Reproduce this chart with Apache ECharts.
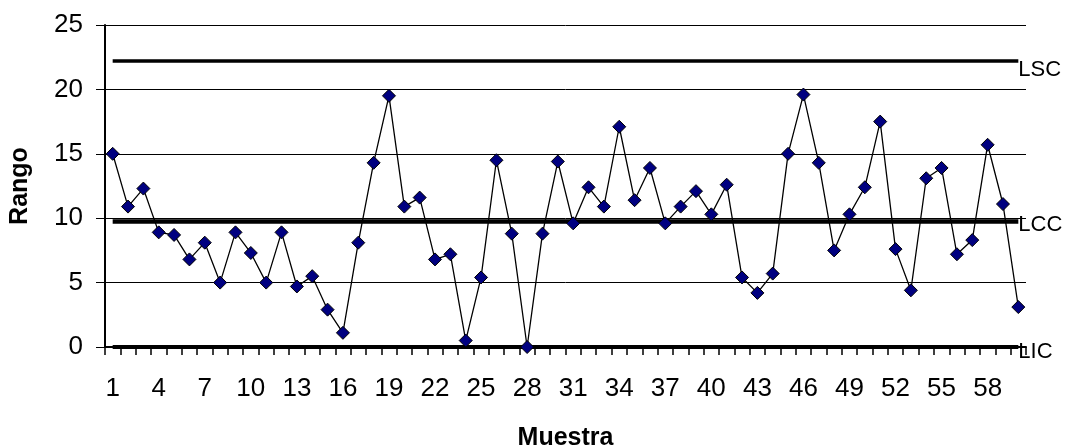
<!DOCTYPE html>
<html>
<head>
<meta charset="utf-8">
<script src="https://cdn.jsdelivr.net/npm/echarts@6/dist/echarts.min.js"></script>
<style>html,body{margin:0;padding:0;background:#fff;}#c{width:1068px;height:448px;}</style>
</head>
<body>
<div id="c"></div>
<script>
var categories = [];
for (var i = 1; i <= 60; i++) categories.push(String(i));

var rango = [15.0, 10.9, 12.3, 8.9, 8.7, 6.8, 8.1, 5.0, 8.9, 7.3,
             5.0, 8.9, 4.7, 5.5, 2.9, 1.1, 8.1, 14.3, 19.5, 10.9,
             11.6, 6.8, 7.2, 0.5, 5.4, 14.5, 8.8, 0.0, 8.8, 14.4,
             9.6, 12.4, 10.9, 17.1, 11.4, 13.9, 9.6, 10.9, 12.1, 10.3,
             12.6, 5.4, 4.2, 5.7, 15.0, 19.6, 14.3, 7.5, 10.3, 12.4,
             17.5, 7.6, 4.4, 13.1, 13.9, 7.2, 8.3, 15.7, 11.1, 3.1];

var lscValue = 22.2;
var lccValue = 9.75;
var licValue = 0;

var lsc = categories.map(function(){ return lscValue; });
var lcc = categories.map(function(){ return lccValue; });
var lic = categories.map(function(){ return licValue; });

var yTicks = [0, 5, 10, 15, 20, 25];

var FONT = '"Liberation Sans", Arial, sans-serif';

function ctrl(name, data, width, dy) {
  return {
    name: name, type: 'line', data: data, symbol: 'none', silent: true,
    lineStyle: { color: '#000', width: width },
    endLabel: { show: true, formatter: '{a}', color: '#000', fontFamily: FONT, fontSize: 22, distance: 0, offset: [0, dy] },
    z: 2
  };
}

var chart = echarts.init(document.getElementById('c'), null, { renderer: 'canvas' });
chart.setOption({
  animation: false,
  backgroundColor: '#fff',
  grid: { left: 105, right: 42, top: 25, bottom: 101, containLabel: false, outerBoundsMode: 'none' },
  xAxis: {
    type: 'category', data: categories, boundaryGap: true,
    name: 'Muestra', nameLocation: 'middle', nameGap: 79,
    nameTextStyle: { fontFamily: FONT, fontSize: 25, fontWeight: 'bold', color: '#000' },
    axisLine: { lineStyle: { color: '#000', width: 2 } },
    axisTick: { show: true, interval: 0, length: 8, lineStyle: { color: '#000', width: 1.5 } },
    axisLabel: { interval: 2, fontFamily: FONT, fontSize: 26, color: '#000', margin: 29 },
    splitLine: { show: false }
  },
  yAxis: {
    type: 'value', min: 0, max: 25, interval: 5,
    name: 'Rango', nameLocation: 'middle', nameGap: 72, nameRotate: 90,
    nameTextStyle: { fontFamily: FONT, fontSize: 25, fontWeight: 'bold', color: '#000' },
    axisLine: { show: true, lineStyle: { color: '#000', width: 2 } },
    axisTick: { show: true, length: 9, lineStyle: { color: '#000', width: 1 } },
    axisLabel: { fontFamily: FONT, fontSize: 26, color: '#000', margin: 22,
      formatter: function(v){ return yTicks.indexOf(v) >= 0 ? String(v) : ''; } },
    splitLine: { show: true, lineStyle: { color: '#000', width: 1 } }
  },
  series: [
    ctrl('LSC', lsc, 3.5, 9),
    ctrl('LCC', lcc, 4.5, 4),
    ctrl('LIC', lic, 4, 5),
    {
      name: 'Rango', type: 'line', data: rango,
      symbol: 'diamond', symbolSize: 13, showAllSymbol: true,
      lineStyle: { color: '#000', width: 1.3 },
      itemStyle: { color: '#000080', borderColor: '#000', borderWidth: 1 },
      z: 5
    }
  ]
});
</script>
</body>
</html>
